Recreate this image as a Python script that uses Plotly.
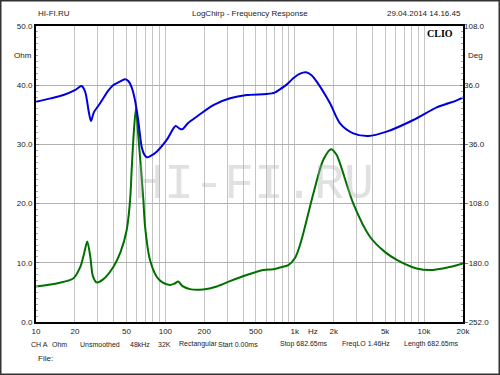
import plotly.graph_objects as go

# ---- data ----
ohm_freq = [10, 15, 19.5, 22, 23.5, 24.9, 26.3, 27.5, 29.4, 33, 39.6, 45, 50.2, 53.4, 54.9, 57, 59.3,
            61.5, 64.9, 67.6, 69.7, 76, 85.7, 95, 108.6, 118, 125.9, 135, 155, 196, 250, 316, 420,
            572, 684, 800, 893, 1005, 1080, 1166, 1394, 1664, 1910, 2100, 2239, 2838, 3818, 5000,
            6152, 8775, 11800, 15850, 20000]
ohm_vals = [6.0, 6.6, 7.4, 9.3, 11.5, 13.6, 11.0, 7.8, 6.7, 7.2, 9.3, 11.8, 15.5, 20.6, 25.7, 32.0, 36.1,
            32.0, 25.7, 20.6, 16.1, 10.5, 7.65, 6.7, 6.25, 6.5, 6.85, 6.1, 5.55, 5.5, 6.0, 6.9, 7.9,
            8.8, 8.9, 9.3, 9.6, 10.8, 12.5, 15.0, 21.7, 27.4, 29.2, 28.3, 26.8, 20.0, 14.4, 11.8,
            10.5, 9.05, 8.8, 9.3, 9.9]

deg_freq = [10, 13, 16.3, 20, 22.5, 24, 25.5, 26.6, 28, 31.3, 36.2, 39.6, 44, 48.7, 51.7, 55, 58.2,
            61.5, 65.6, 68.5, 71.8, 77, 85.7, 102.4, 120, 128, 135, 150, 174.6, 235, 316, 425, 608,
            700, 769, 870, 975, 1100, 1222, 1350, 1479, 1875, 2239, 2838, 3707, 5140, 8260, 12530,
            15400, 17500, 20000]
deg_vals = [15.9, 20.0, 24.1, 30.0, 35.0, 28.0, 5.0, -7.5, 3.0, 14.0, 29.3, 36.2, 40.0, 43.2, 41.1, 33.0, 18.0,
            -5.0, -38.8, -48.0, -51.7, -50.0, -44.9, -30.6, -13.6, -16.5, -17.6, -10.0, -2.3, 11.9, 20.1, 24.1, 25.3,
            27.0, 31.0, 37.0, 44.4, 50.0, 51.7, 48.0, 40.3, 14.0, -10.3, -22.5, -25.8, -20.5, -6.3, 9.1,
            14.0, 17.0, 21.3]

grid_freqs = [m * 10 ** e for e in range(1, 5) for m in range(1, 10) if m * 10 ** e <= 20000]
label_map = {10: "10", 20: "20", 50: "50", 100: "100", 200: "200", 500: "500",
             1000: "1k", 2000: "2k", 5000: "5k", 10000: "10k", 20000: "20k"}
x_ticktext = [label_map.get(f, "") for f in grid_freqs]

ohm_ticks = [0, 10, 20, 30, 40, 50]
deg_ticks = [-252, -180, -108, -36, 36, 108]

footer_items = ["CH A", "Ohm", "Unsmoothed", "48kHz", "32K", "Rectangular",
                "Start 0.00ms", "Stop 682.65ms", "FreqLO 1.46Hz", "Length 682.65ms"]
footer_px = [29, 50, 78, 128, 156, 177, 216, 278, 340, 402]

FONT = "Liberation Sans, Arial, sans-serif"
TXT = "#222222"

fig = go.Figure()
fig.add_trace(go.Scatter(x=ohm_freq, y=ohm_vals, mode="lines", yaxis="y",
                         line=dict(color="#007000", width=2, shape="spline", smoothing=0.8),
                         showlegend=False, hoverinfo="skip"))
fig.add_trace(go.Scatter(x=deg_freq, y=deg_vals, mode="lines", yaxis="y2",
                         line=dict(color="#0000dd", width=2, shape="spline", smoothing=0.8),
                         showlegend=False, hoverinfo="skip"))

fig.update_layout(
    width=500, height=375,
    margin=dict(l=36, r=37, t=26, b=53, autoexpand=False),
    paper_bgcolor="white", plot_bgcolor="white",
    font=dict(family=FONT, size=8, color=TXT),
    xaxis=dict(type="log", range=[1, 4.30103], tickvals=grid_freqs, ticktext=x_ticktext,
               automargin=False,
               showgrid=True, gridcolor="#c4c4c4", gridwidth=1, zeroline=False,
               showline=True, linecolor="black", linewidth=2, mirror=True,
               ticks="", tickfont=dict(size=8, color=TXT)),
    yaxis=dict(range=[0, 50], tickvals=ohm_ticks, tickformat=".1f", automargin=False,
               showgrid=True, gridcolor="#b0b0b0", gridwidth=1, zeroline=False,
               showline=True, linecolor="black", linewidth=2, mirror=True,
               ticks="inside", ticklen=3, tickcolor="#888888",
               minor=dict(dtick=1, ticks="inside", ticklen=2, tickcolor="#aaaaaa"),
               tickfont=dict(size=8, color=TXT)),
    yaxis2=dict(range=[-252, 108], tickvals=deg_ticks, tickformat=".1f", automargin=False,
                overlaying="y", side="right", showgrid=False, zeroline=False,
                showline=False, ticks="inside", ticklen=3, tickcolor="#888888",
                minor=dict(dtick=7.2, ticks="inside", ticklen=2, tickcolor="#aaaaaa"),
                tickfont=dict(size=8, color=TXT)),
)

def px_x(px):
    return (px - 36) / 427.0

def px_y(py):
    return (322 - py) / 296.0

ann = [
    dict(text="HI-FI.RU", x=px_x(36), y=px_y(13), xanchor="left", yanchor="middle"),
    dict(text="LogChirp - Frequency Response", x=px_x(250), y=px_y(13), xanchor="center", yanchor="middle"),
    dict(text="29.04.2014 14.16.45", x=px_x(463), y=px_y(13), xanchor="right", yanchor="middle"),
    dict(text="<b>CLIO</b>", x=px_x(455), y=px_y(33), xanchor="right", yanchor="middle",
         font=dict(size=10, family="Liberation Serif, Times New Roman, serif", color="black")),
    dict(text="Ohm", x=px_x(34), y=px_y(56), xanchor="right", yanchor="middle"),
    dict(text="Deg", x=px_x(466), y=px_y(56), xanchor="left", yanchor="middle"),
    dict(text="Hz", x=px_x(306), y=px_y(331), xanchor="left", yanchor="middle"),
    dict(text="File:", x=px_x(36), y=px_y(358), xanchor="left", yanchor="middle"),
    dict(text="HI-FI.RU", x=px_x(254), y=px_y(184), xanchor="center", yanchor="middle",
         font=dict(size=50, family="Liberation Mono, monospace", color="rgba(170,170,170,0.35)")),
]
for item, px in zip(footer_items, footer_px):
    ann.append(dict(text=item, x=px_x(px), y=px_y(344), xanchor="left", yanchor="middle",
                    font=dict(size=7)))
for a in ann:
    a.update(xref="paper", yref="paper", showarrow=False)
fig.update_layout(annotations=ann)

fig.add_shape(type="rect", xref="paper", yref="paper",
              x0=px_x(0.75), x1=px_x(499.25), y0=px_y(374.25), y1=px_y(0.75),
              line=dict(color="#333333", width=1.5), layer="above")

fig.write_html("out.html", config={"displayModeBar": False, "staticPlot": True},
               post_script="document.body.style.margin='0';document.body.style.padding='0';")
